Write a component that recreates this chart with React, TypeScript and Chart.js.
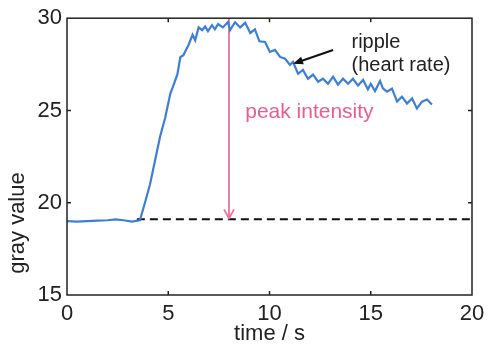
import React, { useEffect, useRef } from "react";
import { Chart, registerables } from "chart.js";

Chart.register(...registerables);

const times = [0, 0.5, 1, 1.5, 2, 2.4, 2.8, 3.2, 3.6, 3.85, 4.1, 4.35, 4.6, 4.85, 5.1, 5.3, 5.45, 5.6, 5.75, 6.0, 6.2, 6.33, 6.5, 6.67, 6.82, 6.96, 7.16, 7.3, 7.46, 7.7, 7.95, 8.05, 8.3, 8.55, 8.8, 9.05, 9.28, 9.5, 9.78, 10.02, 10.27, 10.52, 10.77, 11.01, 11.16, 11.41, 11.65, 11.9, 12.15, 12.4, 12.64, 12.89, 13.14, 13.38, 13.63, 13.88, 14.12, 14.37, 14.62, 14.86, 15.0, 15.21, 15.46, 15.6, 15.8, 16.05, 16.3, 16.54, 16.79, 17.04, 17.28, 17.53, 17.78, 18.02];
const grayValues = [19.0, 18.98, 19.0, 19.03, 19.05, 19.1, 19.05, 18.98, 19.05, 20.0, 21.0, 22.3, 23.6, 24.6, 25.9, 26.5, 26.95, 27.9, 28.0, 28.55, 29.1, 28.8, 29.5, 29.35, 29.55, 29.3, 29.62, 29.4, 29.68, 29.5, 29.8, 29.35, 29.78, 29.5, 29.75, 29.2, 29.4, 28.75, 28.71, 28.17, 28.28, 27.9, 27.8, 27.47, 27.63, 26.99, 27.2, 26.72, 26.94, 26.56, 26.72, 26.45, 26.83, 26.4, 26.72, 26.45, 26.72, 26.35, 26.65, 26.15, 26.45, 26.05, 26.6, 26.2, 26.02, 26.18, 25.48, 25.75, 25.38, 25.65, 25.11, 25.48, 25.59, 25.32];

const xTicks = [0, 5, 10, 15, 20];
const yTicks = [15, 20, 25, 30];

const baselineValue = 19.1;
const baselineRange = [3.45, 20];
const peakTime = 8;
const peakValue = 30;
const rippleArrowFrom = [13.14, 28.28];
const rippleArrowTo = [11.16, 27.53];

const xTitle = "time / s";
const yTitle = "gray value";
const peakLabel = "peak intensity";
const rippleLabel = ["ripple", "(heart rate)"];

const FONT = "'Liberation Sans', Arial, sans-serif";
const BLUE = "#3d7fd6";
const PINK = "#f0709a";
const PINK_TEXT = "#ee5c8c";

const overlay = {
  id: "overlay",
  afterDatasetsDraw(chart: any) {
    const ctx = chart.ctx;
    const xs = chart.scales.x;
    const ys = chart.scales.y;
    const { left, right, top, bottom } = chart.chartArea;
    ctx.save();
    // frame
    ctx.strokeStyle = "#222";
    ctx.lineWidth = 1.5;
    ctx.strokeRect(left, top, right - left, bottom - top);
    // inward ticks
    ctx.beginPath();
    xTicks.slice(1, -1).forEach((v) => {
      const px = xs.getPixelForValue(v);
      ctx.moveTo(px, bottom);
      ctx.lineTo(px, bottom - 4);
      ctx.moveTo(px, top);
      ctx.lineTo(px, top + 4);
    });
    yTicks.slice(1, -1).forEach((v) => {
      const py = ys.getPixelForValue(v);
      ctx.moveTo(left, py);
      ctx.lineTo(left + 4, py);
      ctx.moveTo(right, py);
      ctx.lineTo(right - 4, py);
    });
    ctx.stroke();

    // pink arrowhead
    const ax = xs.getPixelForValue(peakTime);
    const ab = ys.getPixelForValue(baselineValue) - 1;
    ctx.strokeStyle = PINK;
    ctx.lineWidth = 1.8;
    ctx.beginPath();
    ctx.moveTo(ax - 5, ab - 9);
    ctx.lineTo(ax, ab);
    ctx.lineTo(ax + 5, ab - 9);
    ctx.stroke();

    // black arrowhead
    const fx = xs.getPixelForValue(rippleArrowFrom[0]);
    const fy = ys.getPixelForValue(rippleArrowFrom[1]);
    const tx = xs.getPixelForValue(rippleArrowTo[0]);
    const ty = ys.getPixelForValue(rippleArrowTo[1]);
    const ang = Math.atan2(ty - fy, tx - fx);
    const hl = 10, hw = 4;
    ctx.fillStyle = "#111";
    ctx.beginPath();
    ctx.moveTo(tx, ty);
    ctx.lineTo(tx - hl * Math.cos(ang) + hw * Math.sin(ang), ty - hl * Math.sin(ang) - hw * Math.cos(ang));
    ctx.lineTo(tx - hl * Math.cos(ang) - hw * Math.sin(ang), ty - hl * Math.sin(ang) + hw * Math.cos(ang));
    ctx.closePath();
    ctx.fill();

    // texts
    ctx.font = `20px ${FONT}`;
    ctx.textAlign = "left";
    ctx.textBaseline = "alphabetic";
    ctx.fillStyle = "#222";
    ctx.fillText(rippleLabel[0], xs.getPixelForValue(14.05), ys.getPixelForValue(28.4));
    ctx.fillText(rippleLabel[1], xs.getPixelForValue(14.05), ys.getPixelForValue(27.15));
    ctx.fillStyle = PINK_TEXT;
    ctx.font = `21px ${FONT}`;
    ctx.fillText(peakLabel, xs.getPixelForValue(8.8), ys.getPixelForValue(24.6));

    // y title
    ctx.fillStyle = "#222";
    ctx.font = `22px ${FONT}`;
    ctx.translate(18, ys.getPixelForValue(18.9));
    ctx.rotate(-Math.PI / 2);
    ctx.textAlign = "center";
    ctx.textBaseline = "middle";
    ctx.fillText(yTitle, 0, 0);
    ctx.restore();
  },
};

export default function App() {
  const ref = useRef<HTMLCanvasElement>(null);
  useEffect(() => {
    if (!ref.current) return;
    const chart = new Chart(ref.current, {
      type: "line",
      data: {
        datasets: [
          {
            label: "gray",
            data: times.map((t, i) => ({ x: t, y: grayValues[i] })),
            borderColor: BLUE,
            borderWidth: 2.2,
            pointRadius: 0,
            tension: 0,
          },
          {
            label: "baseline",
            data: baselineRange.map((t) => ({ x: t, y: baselineValue })),
            borderColor: "#111",
            borderWidth: 2,
            borderDash: [8, 5],
            pointRadius: 0,
          },
          {
            label: "peak",
            data: [
              { x: peakTime, y: peakValue },
              { x: peakTime, y: baselineValue + 0.05 },
            ],
            borderColor: PINK,
            borderWidth: 1.8,
            pointRadius: 0,
          },
          {
            label: "ripple",
            data: [
              { x: rippleArrowFrom[0], y: rippleArrowFrom[1] },
              { x: rippleArrowTo[0] + 0.3, y: rippleArrowTo[1] + 0.11 },
            ],
            borderColor: "#111",
            borderWidth: 2,
            pointRadius: 0,
          },
        ],
      },
      options: {
        animation: false,
        responsive: false,
        layout: { padding: { top: 16, right: 19, left: 0, bottom: 0 } },
        plugins: { legend: { display: false }, tooltip: { enabled: false } },
        scales: {
          x: {
            type: "linear",
            min: 0,
            max: 20,
            afterFit: (s: any) => {
              s.height = 50;
            },
            afterBuildTicks: (s: any) => {
              s.ticks = xTicks.map((v) => ({ value: v }));
            },
            grid: { display: false, drawTicks: false },
            border: { display: false },
            ticks: {
              padding: 6,
              color: "#222",
              font: { family: FONT, size: 22 },
              maxRotation: 0,
            },
            title: {
              display: true,
              text: xTitle,
              color: "#222",
              padding: 0,
              font: { family: FONT, size: 22, lineHeight: 1 },
            },
          },
          y: {
            type: "linear",
            min: 15,
            max: 30,
            afterFit: (s: any) => {
              s.width = 67;
            },
            afterBuildTicks: (s: any) => {
              s.ticks = yTicks.map((v) => ({ value: v }));
            },
            grid: { display: false, drawTicks: false },
            border: { display: false },
            ticks: {
              padding: 5,
              color: "#222",
              font: { family: FONT, size: 22 },
            },
          },
        },
      },
      plugins: [overlay],
    });
    return () => chart.destroy();
  }, []);
  return (
    <div style={{ position: "absolute", left: 0, top: 0 }}>
      <canvas ref={ref} width={491} height={345} />
    </div>
  );
}
